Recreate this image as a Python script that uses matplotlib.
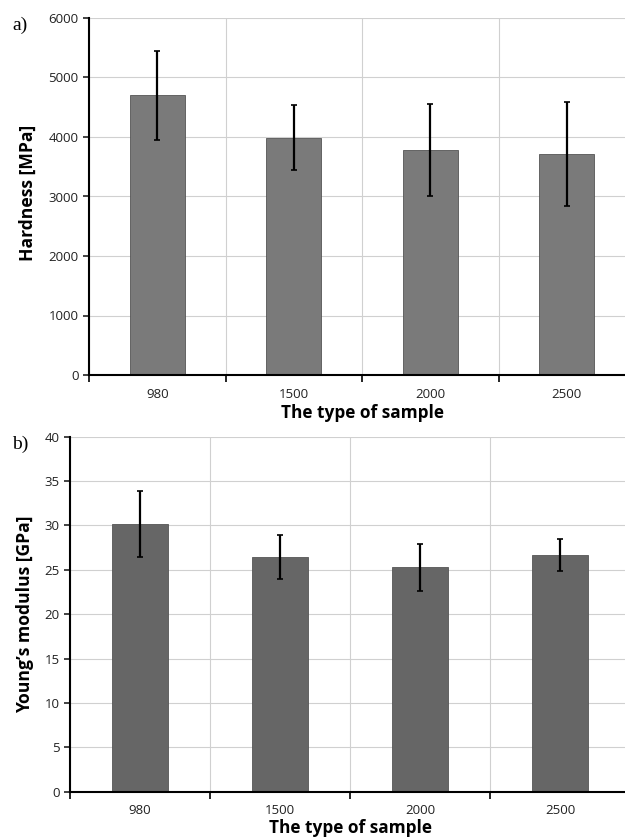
import matplotlib
matplotlib.use("Agg")
import matplotlib.pyplot as plt
import numpy as np

samples = ["980", "1500", "2000", "2500"]
hardness = [4700, 3990, 3780, 3710]
hardness_err = [750, 545, 780, 870]
modulus = [30.15, 26.45, 25.3, 26.7]
modulus_err = [3.7, 2.45, 2.65, 1.8]

plt.rcParams['font.family'] = ['Open Sans', 'DejaVu Sans']

fig = plt.figure(figsize=(6.25, 8.4), dpi=100)


def panel(ax, values, errs, color, ymax, ystep):
    x = np.arange(len(samples))
    ax.set_axisbelow(True)
    ax.bar(x, values, width=0.4, color=color, edgecolor='#555555', linewidth=0.6, zorder=2)
    ax.errorbar(x, values, yerr=errs, fmt='none', ecolor='black', elinewidth=1.6,
                capsize=2, capthick=1.2, zorder=3)
    ax.set_xlim(-0.5, 3.5)
    ax.set_ylim(0, ymax)
    ax.set_yticks(np.arange(0, ymax + ystep / 2, ystep))
    ax.set_xticks(np.arange(-0.5, 4, 1))
    ax.set_xticklabels([])
    ax.set_xticks(x, minor=True)
    ax.set_xticklabels(samples, minor=True)
    ax.tick_params(axis='x', which='major', direction='out', length=5, width=1.2)
    ax.tick_params(axis='x', which='minor', length=0, pad=9, labelsize=9.5, colors='#222222')
    ax.tick_params(axis='y', direction='out', length=4, width=1.2, labelsize=9.5,
                   colors='#222222')
    ax.grid(True, which='major', color='#d0d0d0', linewidth=0.8)
    for s in ['top', 'right']:
        ax.spines[s].set_visible(False)
    for s in ['left', 'bottom']:
        ax.spines[s].set_linewidth(1.5)


ax1 = fig.add_axes([89 / 625, 1 - 375 / 840, 546 / 625, 357 / 840])
panel(ax1, hardness, hardness_err, '#7a7a7a', 6000, 1000)
ax2 = fig.add_axes([70 / 625, 1 - 791.7 / 840, 560 / 625, 355 / 840])
panel(ax2, modulus, modulus_err, '#666666', 40, 5)

fig.text(362 / 625, 1 - 413 / 840, 'The type of sample', ha='center', va='center',
         fontsize=12.4, fontweight='bold')
fig.text(350 / 625, 1 - 828 / 840, 'The type of sample', ha='center', va='center',
         fontsize=12.4, fontweight='bold')
fig.text(28 / 625, 1 - 193 / 840, 'Hardness [MPa]', rotation=90, ha='center', va='center',
         fontsize=12.6, fontweight='bold')
fig.text(25 / 625, 1 - 614 / 840, 'Young\u2019s modulus [GPa]', rotation=90, ha='center',
         va='center', fontsize=12.6, fontweight='bold')
fig.text(12 / 625, 1 - 25 / 840, 'a)', fontsize=14, family='Liberation Serif', va='center')
fig.text(12 / 625, 1 - 444 / 840, 'b)', fontsize=14, family='Liberation Serif', va='center')

fig.savefig('out.png', dpi=100)
